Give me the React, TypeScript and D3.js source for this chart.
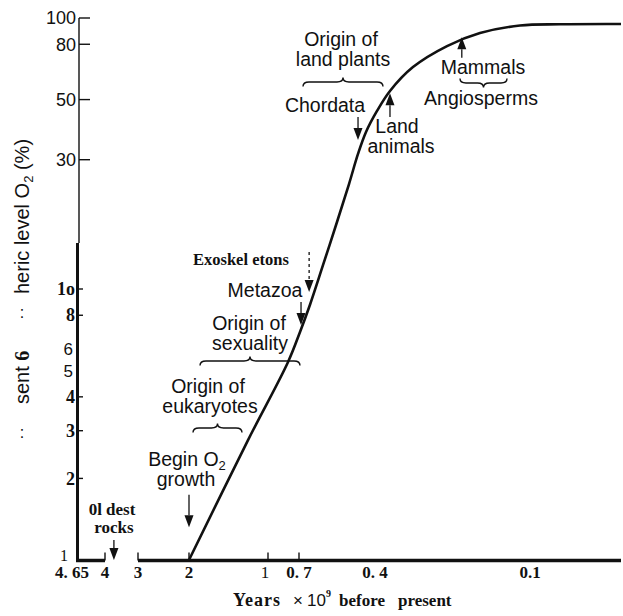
import React from "react";
import * as d3 from "d3";

const W = 623;
const H = 616;

// ---- data ----
// x axis: time in 10^9 years before present (broken, piecewise scale)
const timeBreaks = [4.65, 4, 3, 2, 1, 0.7, 0.4, 0.1, 0];
const xTickValues = [4.65, 4, 3, 2, 1, 0.7, 0.4, 0.1];
const xTickLabels = ["4. 65", "4", "3", "2", "1", "0. 7", "0. 4", "0.1"];
const xTickMarked = [false, true, true, true, true, true, false, false];

// y axis: present atmospheric level O2 (%) on log scale
const yTickValuesUpper = [100, 80, 50, 30];
const yTickLabelsUpper = ["100", "80", "50", "30"];
const yTickValuesLower = [10, 8, 4, 3, 2];
const yTickLabelsLower = ["1o", "8", "4", "3", "2"];
const yTickValuesPlain = [6, 5];
const yTickLabelsPlain = ["6", "5"];

// O2 growth curve
const curveTime = [2.0, 1.253, 0.806, 0.696, 0.657, 0.605, 0.55, 0.5026, 0.4671, 0.4355, 0.3961, 0.371, 0.3265, 0.2606, 0.1968, 0.1194, 0.067, 0];
const curveO2 = [1, 2.77, 5.38, 6.94, 8.73, 12.27, 17.67, 24.4, 31.5, 37.96, 45.4, 53.8, 65.9, 78.8, 88.0, 93.8, 94.8, 95.0];

// event arrows
const eventTime = [3.73, 2.0, 0.692, 0.66, 0.467, 0.371, 0.232];
const eventTail = [1.185, 1.74, 8.95, 13.7, 43.1, 43.1, 71.3];
const eventTip = [1.0, 1.32, 7.37, 9.75, 35.5, 52.8, 85.0];
const eventDashed = [false, false, false, true, false, false, false];

const SANS = "'Liberation Sans', Arial, Helvetica, sans-serif";
const SERIF = "'Liberation Serif', 'Times New Roman', serif";
const INK = "#111";

function bracePath(x1: number, x2: number, y: number, tipDown: boolean) {
  const s = tipDown ? 1 : -1;
  const h = 4.5;
  const r = 6;
  const xm = (x1 + x2) / 2;
  return `M${x1},${y - s * h} Q${x1},${y} ${x1 + r},${y} L${xm - r},${y} Q${xm},${y} ${xm},${y + s * h} Q${xm},${y} ${xm + r},${y} L${x2 - r},${y} Q${x2},${y} ${x2},${y - s * h}`;
}

export default function App() {
  const x = d3
    .scaleLinear()
    .domain(timeBreaks)
    .range([77, 105, 138, 189, 268, 299, 375, 530, 621]);
  const y = d3.scaleLog().domain([1, 100]).range([560, 18]);

  const pts = curveTime.map((t, i) => ({ t, o: curveO2[i] }));
  const line = d3
    .line<{ t: number; o: number }>()
    .x((d) => x(d.t))
    .y((d) => y(d.o))
    .curve(d3.curveCatmullRom.alpha(0.5));

  const axisY = 560.5;

  const sansLabel = (txt: string, cx: number, by: number, key: string) => (
    <text key={key} x={cx} y={by} textAnchor="middle" fontFamily={SANS} fontSize={19.5} fill={INK}>
      {txt}
    </text>
  );

  return (
    <svg
      width={W}
      height={H}
      style={{ position: "absolute", left: 0, top: 0, background: "#fff" }}
    >
      <rect x={0} y={0} width={W} height={H} fill="#fff" />

      {/* y axis */}
      <line x1={79} x2={79} y1={y(100)} y2={243} stroke={INK} strokeWidth={1.4} />
      <line x1={77.5} x2={77.5} y1={243} y2={axisY + 1.5} stroke={INK} strokeWidth={3} />
      {yTickValuesUpper.map((v, i) => (
        <g key={"yu" + i}>
          <line x1={79} x2={90} y1={y(v)} y2={y(v)} stroke={INK} strokeWidth={1.4} />
          <text x={76} y={y(v)} dy="0.36em" textAnchor="end" fontFamily={SANS} fontSize={18} fill={INK}>
            {yTickLabelsUpper[i]}
          </text>
        </g>
      ))}
      {yTickValuesLower.map((v, i) => (
        <g key={"yl" + i}>
          <line x1={78} x2={83} y1={y(v)} y2={y(v)} stroke={INK} strokeWidth={1.4} />
          <text x={75} y={y(v)} dy="0.34em" textAnchor="end" fontFamily={SERIF} fontWeight="bold" fontSize={18} fill={INK}>
            {yTickLabelsLower[i]}
          </text>
        </g>
      ))}
      {yTickValuesPlain.map((v, i) => (
        <text key={"yp" + i} x={73} y={y(v)} dy="0.36em" textAnchor="end" fontFamily={SANS} fontSize={17} fill={INK}>
          {yTickLabelsPlain[i]}
        </text>
      ))}
      <text x={68} y={y(1) + 1} textAnchor="end" fontFamily={SERIF} fontSize={16} fill={INK}>
        1
      </text>

      {/* y axis title (as printed) */}
      <text
        transform={`translate(29,294) rotate(-90)`}
        fontFamily={SANS}
        fontSize={20}
        fill={INK}
      >
        heric level O
        <tspan fontSize={13} dy={4}>2</tspan>
        <tspan dy={-4}> (%)</tspan>
      </text>
      <text x={22} y={318} textAnchor="middle" fontFamily={SANS} fontSize={16} fill={INK}>:</text>
      <text transform={`translate(29,404) rotate(-90)`} fontFamily={SANS} fontSize={20} fill={INK}>
        sent <tspan fontFamily={SERIF} fontWeight="bold">6</tspan>
      </text>
      <text x={22} y={438} textAnchor="middle" fontFamily={SANS} fontSize={16} fill={INK}>:</text>

      {/* x axis (broken) */}
      <line x1={76} x2={x(4)} y1={axisY} y2={axisY} stroke={INK} strokeWidth={3.5} />
      <line x1={x(3)} x2={x(0)} y1={axisY} y2={axisY} stroke={INK} strokeWidth={3.5} />
      {xTickValues.map((v, i) => (
        <g key={"xt" + i}>
          {xTickMarked[i] && (
            <line x1={x(v)} x2={x(v)} y1={axisY} y2={axisY - 8} stroke={INK} strokeWidth={1.4} />
          )}
          <text
            x={x(v) + (i === 0 ? -5 : i === 4 ? -3 : 0)}
            y={578}
            textAnchor="middle"
            fontFamily={SERIF}
            fontWeight={i === 4 ? "normal" : "bold"}
            fontSize={17}
            fill={INK}
          >
            {xTickLabels[i]}
          </text>
        </g>
      ))}
      <g fontFamily={SERIF} fontWeight="bold" fontSize={17} fill={INK}>
        <text x={233} y={606} fontSize={18} letterSpacing={1}>Years</text>
        <text x={298} y={606} textAnchor="middle" fontFamily={SANS} fontWeight="normal" fontSize={17}>×</text>
        <text x={307} y={606} fontFamily={SANS} fontWeight="normal" fontSize={17}>
          10
          <tspan fontSize={10} dy={-9} fontFamily={SERIF} fontWeight="bold">9</tspan>
        </text>
        <text x={339} y={606}>before</text>
        <text x={398} y={606}>present</text>
      </g>

      {/* curve */}
      <path d={line(pts) || ""} fill="none" stroke={INK} strokeWidth={2.6} strokeLinejoin="round" />

      {/* event arrows */}
      {eventTime.map((t, i) => {
        const ax = x(t);
        const y0 = y(eventTail[i]);
        const y1 = y(eventTip[i]);
        const dir = y1 > y0 ? 1 : -1;
        const hl = 12;
        const hw = 4.5;
        const base = y1 - dir * hl;
        return (
          <g key={"ev" + i}>
            <line
              x1={ax}
              x2={ax}
              y1={y0}
              y2={base}
              stroke={INK}
              strokeWidth={1.3}
              strokeDasharray={eventDashed[i] ? "3,3" : undefined}
            />
            <path d={`M${ax - hw},${base} L${ax + hw},${base} L${ax},${y1} Z`} fill={INK} />
          </g>
        );
      })}

      {/* braces */}
      <g fill="none" stroke={INK} strokeWidth={1.4}>
        <path d={bracePath(303, 383, 82, false)} />
        <path d={bracePath(460, 507, 83, true)} />
        <path d={bracePath(200, 300, 361, false)} />
        <path d={bracePath(193, 242, 428, false)} />
      </g>

      {/* annotation labels */}
      {sansLabel("Origin of", 341, 46, "l1")}
      {sansLabel("land plants", 343, 66, "l2")}
      {sansLabel("Chordata", 325, 112, "l3")}
      {sansLabel("Land", 397, 133, "l4")}
      {sansLabel("animals", 401, 153, "l5")}
      {sansLabel("Mammals", 483, 74, "l6")}
      {sansLabel("Angiosperms", 481, 105, "l7")}
      {sansLabel("Metazoa", 265, 297, "l8")}
      {sansLabel("Origin of", 249, 330, "l9")}
      {sansLabel("sexuality", 250, 350, "l10")}
      {sansLabel("Origin of", 208, 393, "l11")}
      {sansLabel("eukaryotes", 210, 413, "l12")}
      <text x={187} y={466} textAnchor="middle" fontFamily={SANS} fontSize={19.5} fill={INK}>
        Begin O<tspan fontSize={13} dy={4}>2</tspan>
      </text>
      {sansLabel("growth", 186, 486, "l13")}
      <text x={193} y={265} fontFamily={SERIF} fontWeight="bold" fontSize={16.5} fill={INK}>
        Exoskel etons
      </text>
      <text x={112} y={515} textAnchor="middle" fontFamily={SERIF} fontWeight="bold" fontSize={17} fill={INK}>
        0l dest
      </text>
      <text x={114} y={533} textAnchor="middle" fontFamily={SERIF} fontWeight="bold" fontSize={17} fill={INK}>
        rocks
      </text>
    </svg>
  );
}
